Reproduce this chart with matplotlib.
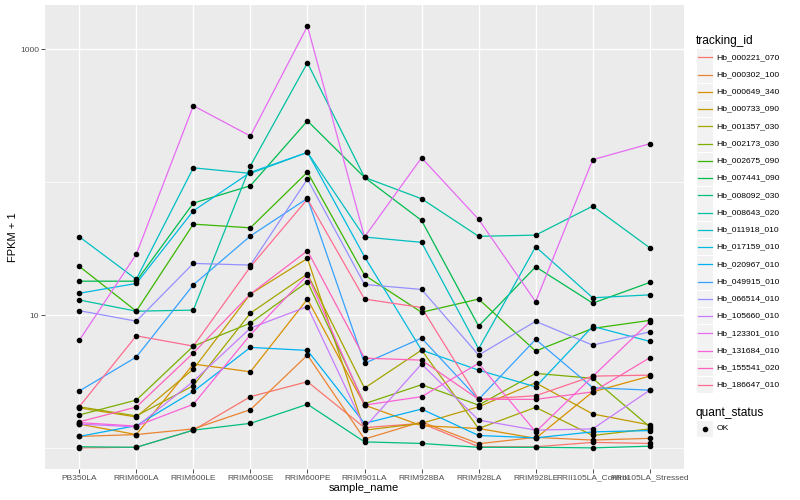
import matplotlib
matplotlib.use("Agg")
import matplotlib.pyplot as plt
from matplotlib.lines import Line2D
from matplotlib.patches import Rectangle
from matplotlib.ticker import FixedLocator, NullFormatter

plt.rcParams['font.family'] = ['Liberation Sans', 'DejaVu Sans']

# ---- data (FPKM + 1) ----
samples = ["PB350LA", "RRIM600LA", "RRIM600LE", "RRIM600SE", "RRIM600PE",
           "RRIM901LA", "RRIM928BA", "RRIM928LA", "RRIM928LE",
           "RRII105LA_Control", "RRII105LA_Stressed"]

tracking_ids = ["Hb_000221_070", "Hb_000302_100", "Hb_000649_340", "Hb_000733_090",
                "Hb_001357_030", "Hb_002173_030", "Hb_002675_090", "Hb_007441_090",
                "Hb_008092_030", "Hb_008643_020", "Hb_011918_010", "Hb_017159_010",
                "Hb_020967_010", "Hb_049915_010", "Hb_066514_010", "Hb_105660_010",
                "Hb_123301_010", "Hb_131684_010", "Hb_155541_020", "Hb_186647_010"]

hb_000221_070 = [1.00, 1.01, 1.36, 2.43, 3.15, 1.42, 1.53, 1.02, 1.02, 1.10, 1.08]
hb_000302_100 = [1.22, 1.26, 1.39, 1.94, 5.0, 1.165, 1.57, 1.075, 1.20, 1.145, 1.18]
hb_000649_340 = [1.51, 1.26, 4.28, 3.74, 13.2, 2.10, 1.47, 1.40, 1.18, 2.64, 3.47]
hb_000733_090 = [2.00, 1.71, 3.92, 14.4, 26.7, 1.36, 1.53, 2.04, 3.09, 1.80, 1.49]
hb_001357_030 = [2.04, 1.74, 2.94, 10.35, 20.4, 2.82, 5.45, 1.40, 2.02, 1.24, 1.39]
hb_002173_030 = [1.77, 2.29, 5.84, 8.7, 17.8, 2.15, 2.99, 2.10, 3.64, 3.34, 1.44]
hb_002675_090 = [23.3, 10.7, 48.4, 45.4, 119.3, 20.0, 10.5, 13.2, 5.36, 7.94, 9.12]
hb_007441_090 = [18.0, 18.0, 69.7, 94.2, 290, 108.9, 51.6, 8.26, 23.1, 12.3, 17.6]
hb_008092_030 = [1.02, 1.01, 1.36, 1.53, 2.13, 1.11, 1.08, 1.01, 1.01, 1.00, 1.03]
hb_008643_020 = [13.0, 10.7, 10.9, 133, 794, 108.9, 75.2, 39.2, 40.0, 66.2, 32.1]
hb_011918_010 = [38.9, 18.6, 128.5, 116.7, 168, 38.7, 35.3, 5.57, 32.7, 13.5, 14.2]
hb_017159_010 = [14.6, 17.3, 61.0, 118.7, 168, 27.5, 5.45, 3.85, 2.88, 8.22, 6.34]
hb_020967_010 = [1.22, 1.47, 2.66, 5.71, 5.42, 1.53, 1.96, 1.24, 1.19, 1.32, 1.35]
hb_049915_010 = [2.68, 4.83, 16.9, 39.4, 75.7, 4.33, 6.71, 2.32, 6.56, 2.84, 2.72]
hb_066514_010 = [10.8, 9.0, 24.5, 23.8, 105.7, 17.0, 15.6, 5.0, 8.97, 5.94, 7.48]
hb_105660_010 = [1.51, 1.44, 3.17, 7.98, 11.6, 1.42, 4.28, 1.62, 1.36, 1.39, 2.72]
hb_123301_010 = [6.44, 28.7, 377, 223, 1500, 38.7, 153, 52.6, 12.6, 148, 195]
hb_131684_010 = [1.55, 1.46, 2.13, 7.11, 20.0, 2.10, 2.43, 4.33, 1.32, 3.45, 8.90]
hb_155541_020 = [1.57, 2.03, 5.18, 14.4, 30.5, 4.74, 4.58, 2.32, 2.32, 2.64, 4.77]
hb_186647_010 = [2.04, 6.98, 5.84, 23.1, 74.7, 13.2, 11.4, 2.32, 2.47, 3.47, 3.53]

series = [hb_000221_070, hb_000302_100, hb_000649_340, hb_000733_090, hb_001357_030,
          hb_002173_030, hb_002675_090, hb_007441_090, hb_008092_030, hb_008643_020,
          hb_011918_010, hb_017159_010, hb_020967_010, hb_049915_010, hb_066514_010,
          hb_105660_010, hb_123301_010, hb_131684_010, hb_155541_020, hb_186647_010]

# ggplot default hue palette for 20 levels
colors = ["#F8766D", "#EA8331", "#D89000", "#C09B00", "#A3A500", "#7CAE00", "#39B600",
          "#00BB4E", "#00BF7D", "#00C1A3", "#00BFC4", "#00BAE0", "#00B0F6", "#35A2FF",
          "#9590FF", "#C77CFF", "#E76BF3", "#FA62DB", "#FF62BC", "#FF6C91"]

W, H = 800, 500


def fx(px):
    return px / W


def fy(py):
    return 1 - py / H


fig = plt.figure(figsize=(8, 5), dpi=100)
ax = fig.add_axes([fx(45), fy(469), (684 - 45) / W, (469 - 5) / H])
ax.set_facecolor("#EBEBEB")

x = list(range(len(samples)))
for vals, c in zip(series, colors):
    ax.plot(x, vals, color=c, lw=0.9, zorder=2)
for vals in series:
    ax.plot(x, vals, ls="none", marker="o", ms=3.0, color="black", zorder=3)

ax.set_yscale("log")
ax.set_ylim(10 ** -0.159, 10 ** 3.335)
ax.set_xlim(-0.6, len(samples) - 0.4)

ax.set_xticks(x)
ax.set_xticklabels(samples)
ax.yaxis.set_major_locator(FixedLocator([10, 1000]))
ax.set_yticklabels(["10", "1000"])
ax.yaxis.set_minor_locator(FixedLocator([1, 100]))
ax.yaxis.set_minor_formatter(NullFormatter())

ax.tick_params(which="major", length=2.6, width=0.6, color="#333333",
               labelsize=6, labelcolor="#4D4D4D", pad=1.5)
ax.tick_params(which="minor", length=0)
ax.grid(which="major", color="white", lw=1.0)
ax.grid(which="minor", axis="y", color="white", lw=0.5)
ax.set_axisbelow(True)
for s in ax.spines.values():
    s.set_visible(False)

fig.text(fx(364), fy(488), "sample_name", ha="center", va="center", fontsize=8)
fig.text(fx(13), fy(237), "FPKM + 1", ha="center", va="center", rotation=90, fontsize=8)

# ---- legends ----
fig.text(fx(696), fy(40.7), "tracking_id", ha="left", va="center", fontsize=8.6)
step = 17.25
for i, (tid, c) in enumerate(zip(tracking_ids, colors)):
    yc = 57.3 + i * step
    fig.patches.append(Rectangle((fx(696.5), fy(yc + 8.2)), 16.5 / W, 16.4 / H,
                                 transform=fig.transFigure, facecolor="#F2F2F2",
                                 edgecolor="none"))
    fig.lines.append(Line2D([fx(698), fx(712)], [fy(yc), fy(yc)],
                            transform=fig.transFigure, color=c, lw=0.9))
    fig.text(fx(716.5), fy(yc), tid, ha="left", va="center", fontsize=6.1)

fig.text(fx(696), fy(412.7), "quant_status", ha="left", va="center", fontsize=8.6)
fig.patches.append(Rectangle((fx(696.5), fy(429 + 8.2)), 16.5 / W, 16.4 / H,
                             transform=fig.transFigure, facecolor="#F2F2F2",
                             edgecolor="none"))
fig.lines.append(Line2D([fx(704.7)], [fy(429)], transform=fig.transFigure,
                        marker="o", ms=3.0, color="black", ls="none"))
fig.text(fx(716.5), fy(429), "OK", ha="left", va="center", fontsize=6.1)

fig.savefig("out.png", dpi=100)
